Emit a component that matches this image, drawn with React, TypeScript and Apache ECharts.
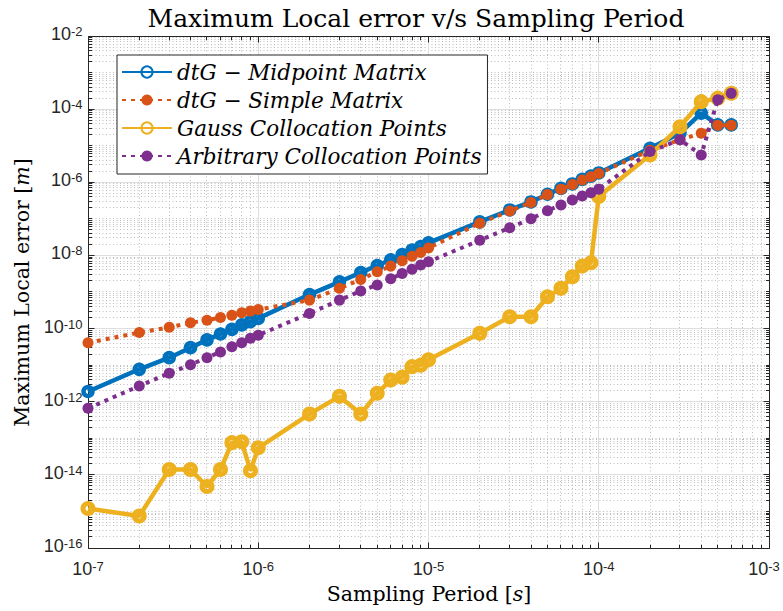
import { useEffect, useRef } from 'react';
import * as echarts from 'echarts';

// ---------- data ----------
const periods = [
  1e-7, 2e-7, 3e-7, 4e-7, 5e-7, 6e-7, 7e-7, 8e-7, 9e-7,
  1e-6, 2e-6, 3e-6, 4e-6, 5e-6, 6e-6, 7e-6, 8e-6, 9e-6,
  1e-5, 2e-5, 3e-5, 4e-5, 5e-5, 6e-5, 7e-5, 8e-5, 9e-5,
  1e-4, 2e-4, 3e-4, 4e-4, 5e-4, 6e-4,
];

const midpointErr = [
  1.9e-12, 7.7e-12, 1.6e-11, 3.0e-11, 4.9e-11, 7.1e-11, 9.5e-11, 1.26e-10, 1.55e-10,
  1.9e-10, 8.5e-10, 1.9e-9, 3.4e-9, 5.3e-9, 7.6e-9, 1.05e-8, 1.4e-8, 1.75e-8,
  2.2e-8, 8.3e-8, 1.75e-7, 2.9e-7, 4.7e-7, 6.8e-7, 9.0e-7, 1.2e-6, 1.47e-6,
  1.8e-6, 8.5e-6, 2.2e-5, 7.8e-5, 3.7e-5, 3.7e-5,
];

const simpleErr = [
  4.1e-11, 7.8e-11, 1.08e-10, 1.44e-10, 1.69e-10, 2.0e-10, 2.3e-10, 2.7e-10, 3.0e-10,
  3.3e-10, 6.0e-10, 1.26e-9, 2.2e-9, 3.6e-9, 5.1e-9, 7.2e-9, 9.5e-9, 1.2e-8,
  1.6e-8, 7.6e-8, 1.65e-7, 2.8e-7, 4.6e-7, 6.5e-7, 8.7e-7, 1.15e-6, 1.42e-6,
  1.75e-6, 7.5e-6, 1.45e-5, 2.2e-5, 3.6e-5, 3.6e-5,
];

const gaussErr = [
  1.2e-15, 7.5e-16, 1.4e-14, 1.4e-14, 4.8e-15, 1.4e-14, 7.6e-14, 8.0e-14, 1.3e-14,
  5.5e-14, 4.6e-13, 1.4e-12, 4.6e-13, 1.7e-12, 3.9e-12, 4.7e-12, 9.1e-12, 1.0e-11,
  1.4e-11, 7.4e-11, 2.1e-10, 2.1e-10, 7.4e-10, 1.26e-9, 2.6e-9, 5.1e-9, 6.3e-9,
  4.1e-7, 5.6e-6, 3.3e-5, 1.6e-4, 2.0e-4, 2.7e-4,
];

const arbitraryErr = [
  6.6e-13, 2.7e-12, 6.0e-12, 1.03e-11, 1.6e-11, 2.3e-11, 3.2e-11, 4.1e-11, 5.4e-11,
  6.6e-11, 2.6e-10, 6.0e-10, 1.07e-9, 1.56e-9, 2.3e-9, 3.2e-9, 4.2e-9, 5.5e-9,
  6.7e-9, 2.6e-8, 5.7e-8, 1.0e-7, 1.67e-7, 2.4e-7, 3.3e-7, 4.2e-7, 5.2e-7,
  6.5e-7, 6.9e-6, 1.45e-5, 5.6e-6, 1.8e-4, 2.7e-4,
];

const seriesNames = [
  'dtG − Midpoint Matrix',
  'dtG − Simple Matrix',
  'Gauss Collocation Points',
  'Arbitrary Collocation Points',
];

const titleText = 'Maximum Local error v/s Sampling Period';
const xTitleParts = ['Sampling Period [', 's', ']'];
const yTitleParts = ['Maximum Local error [', 'm', ']'];

const X_MIN = 1e-7;
const X_MAX = 1e-3;
const Y_MIN = 1e-16;
const Y_MAX = 1e-2;

const xMajorTicks = [1e-7, 1e-6, 1e-5, 1e-4, 1e-3];
const xMajorExps = ['-7', '-6', '-5', '-4', '-3'];
const yMajorTicks = [1e-16, 1e-14, 1e-12, 1e-10, 1e-8, 1e-6, 1e-4, 1e-2];
const yMajorExps = ['-16', '-14', '-12', '-10', '-8', '-6', '-4', '-2'];

const minorMultipliers = [2, 3, 4, 5, 6, 7, 8, 9];
const xDecades = [-7, -6, -5, -4];
const yDecades = [-16, -15, -14, -13, -12, -11, -10, -9, -8, -7, -6, -5, -4, -3];

const xMinorTicks = xDecades.flatMap((k) => minorMultipliers.map((m) => m * Math.pow(10, k)));
const yMinorTicks = yDecades.flatMap((k) => {
  const list = minorMultipliers.map((m) => m * Math.pow(10, k));
  if (Math.abs(k) % 2 === 1) list.unshift(Math.pow(10, k));
  return list;
});

// ---------- styles ----------
const BLUE = '#0072BD';
const ORANGE = '#D95319';
const GOLD = '#EDB120';
const PURPLE = '#7E2F8E';
const AXIS_COLOR = '#262626';
const SERIF = '"DejaVu Serif", "Liberation Serif", serif';
const SANS = '"Liberation Sans", Arial, Helvetica, sans-serif';

const crisp = (v: number) => Math.round(v - 0.5) + 0.5;

const tickRich = {
  b: {
    font: `18px ${SANS}`, fontSize: 18, fontFamily: SANS, fill: AXIS_COLOR,
    lineHeight: 18, verticalAlign: 'bottom', padding: [5, 0, 0, 0],
  },
  s: {
    font: `13px ${SANS}`, fontSize: 13, fontFamily: SANS, fill: AXIS_COLOR,
    lineHeight: 13, verticalAlign: 'top',
  },
};

const titleRich = {
  r: { fontSize: 20.5, fontFamily: SERIF, fill: '#000' },
  i: { fontSize: 20.5, fontFamily: SERIF, fontStyle: 'italic', fill: '#000' },
};

function renderFrame(_params: any, api: any) {
  const [l, b] = api.coord([X_MIN, Y_MIN]);
  const [r, t] = api.coord([X_MAX, Y_MAX]);
  const L = crisp(l), R = crisp(r), T = crisp(t), B = crisp(b);
  const children: any[] = [];
  const minorGrid = { stroke: '#bdbdbd', lineWidth: 1, lineDash: [1, 2.5], fill: null };
  const majorGrid = { stroke: '#dedede', lineWidth: 1, fill: null };
  const tickStyle = { stroke: AXIS_COLOR, lineWidth: 1, fill: null };
  const MAJ = 6;
  const MIN = 3.5;

  xMinorTicks.forEach((v) => {
    const px = crisp(api.coord([v, Y_MIN])[0]);
    children.push({ type: 'line', shape: { x1: px, y1: T, x2: px, y2: B }, style: minorGrid });
  });
  yMinorTicks.forEach((v) => {
    const py = crisp(api.coord([X_MIN, v])[1]);
    children.push({ type: 'line', shape: { x1: L, y1: py, x2: R, y2: py }, style: minorGrid });
  });
  xMajorTicks.forEach((v) => {
    const px = crisp(api.coord([v, Y_MIN])[0]);
    children.push({ type: 'line', shape: { x1: px, y1: T, x2: px, y2: B }, style: majorGrid });
  });
  yMajorTicks.forEach((v) => {
    const py = crisp(api.coord([X_MIN, v])[1]);
    children.push({ type: 'line', shape: { x1: L, y1: py, x2: R, y2: py }, style: majorGrid });
  });

  // ticks
  xMinorTicks.forEach((v) => {
    const px = crisp(api.coord([v, Y_MIN])[0]);
    children.push({ type: 'line', shape: { x1: px, y1: B, x2: px, y2: B - MIN }, style: tickStyle });
    children.push({ type: 'line', shape: { x1: px, y1: T, x2: px, y2: T + MIN }, style: tickStyle });
  });
  xMajorTicks.forEach((v) => {
    const px = crisp(api.coord([v, Y_MIN])[0]);
    children.push({ type: 'line', shape: { x1: px, y1: B, x2: px, y2: B - MAJ }, style: tickStyle });
    children.push({ type: 'line', shape: { x1: px, y1: T, x2: px, y2: T + MAJ }, style: tickStyle });
  });
  yMinorTicks.forEach((v) => {
    const py = crisp(api.coord([X_MIN, v])[1]);
    children.push({ type: 'line', shape: { x1: L, y1: py, x2: L + MIN, y2: py }, style: tickStyle });
    children.push({ type: 'line', shape: { x1: R, y1: py, x2: R - MIN, y2: py }, style: tickStyle });
  });
  yMajorTicks.forEach((v) => {
    const py = crisp(api.coord([X_MIN, v])[1]);
    children.push({ type: 'line', shape: { x1: L, y1: py, x2: L + MAJ, y2: py }, style: tickStyle });
    children.push({ type: 'line', shape: { x1: R, y1: py, x2: R - MAJ, y2: py }, style: tickStyle });
  });

  // box
  children.push({
    type: 'rect',
    shape: { x: L, y: T, width: R - L, height: B - T },
    style: { stroke: AXIS_COLOR, lineWidth: 1, fill: null },
  });

  // tick labels (last one kept inside the page edge)
  xMajorTicks.forEach((v, i) => {
    const px = api.coord([v, Y_MIN])[0];
    children.push({
      type: 'text',
      x: Math.min(px, 764),
      y: B + 11,
      style: { text: `{b|10}{s|${xMajorExps[i]}}`, rich: tickRich, align: 'center', verticalAlign: 'top' },
    });
  });
  yMajorTicks.forEach((v, i) => {
    const py = api.coord([X_MIN, v])[1];
    children.push({
      type: 'text',
      x: L - 6,
      y: py - 2,
      style: { text: `{b|10}{s|${yMajorExps[i]}}`, rich: tickRich, align: 'right', verticalAlign: 'middle' },
    });
  });

  // axis titles
  children.push({
    type: 'text',
    x: (L + R) / 2,
    y: B + 45,
    style: {
      text: `{r|${xTitleParts[0]}}{i|${xTitleParts[1]}}{r|${xTitleParts[2]}}`,
      rich: titleRich,
      align: 'center',
      verticalAlign: 'middle',
    },
  });
  children.push({
    type: 'text',
    x: 22,
    y: (T + B) / 2,
    rotation: Math.PI / 2,
    style: {
      text: `{r|${yTitleParts[0]}}{i|${yTitleParts[1]}}{r|${yTitleParts[2]}}`,
      rich: titleRich,
      align: 'center',
      verticalAlign: 'middle',
    },
  });

  return { type: 'group', children };
}

const toPairs = (ys: number[]) => periods.map((x, i) => [x, ys[i]]);

export default function App() {
  const ref = useRef<HTMLDivElement>(null);

  useEffect(() => {
    if (!ref.current) return;
    const chart = echarts.init(ref.current, undefined, { renderer: 'svg' });

    const dotted = [4, 5];

    const option: any = {
      animation: false,
      backgroundColor: '#ffffff',
      title: {
        text: titleText,
        left: 411,
        top: 1,
        textAlign: 'center',
        textStyle: { fontFamily: SERIF, fontWeight: 'normal', fontSize: 25, color: '#000' },
      },
      grid: { left: 88, right: 14, top: 36, bottom: 63, containLabel: false },
      xAxis: {
        type: 'log',
        logBase: 10,
        min: X_MIN,
        max: X_MAX,
        axisLine: { show: false },
        axisTick: { show: false },
        axisLabel: { show: false },
        splitLine: { show: false },
      },
      yAxis: {
        type: 'log',
        logBase: 10,
        min: Y_MIN,
        max: Y_MAX,
        axisLine: { show: false },
        axisTick: { show: false },
        axisLabel: { show: false },
        splitLine: { show: false },
      },
      legend: {
        orient: 'vertical',
        left: 117,
        top: 55,
        itemWidth: 50,
        itemHeight: 14,
        itemGap: 6,
        padding: [6, 6, 7, 4],
        borderColor: AXIS_COLOR,
        borderWidth: 1,
        borderRadius: 0,
        backgroundColor: '#ffffff',
        data: seriesNames,
        textStyle: {
          fontFamily: SERIF,
          fontStyle: 'italic',
          fontSize: 21.5,
          lineHeight: 20,
          color: '#000',
        },
      },
      series: [
        {
          type: 'custom',
          name: 'frame',
          coordinateSystem: 'cartesian2d',
          silent: true,
          z: 1,
          clip: false,
          data: [[X_MIN, Y_MIN]],
          renderItem: renderFrame,
        },
        {
          type: 'line',
          name: seriesNames[0],
          data: toPairs(midpointErr),
          z: 2,
          symbol: 'circle',
          symbolSize: 9,
          lineStyle: { color: BLUE, width: 4.5 },
          itemStyle: { color: 'rgba(0,0,0,0)', borderColor: BLUE, borderWidth: 4.5 },
        },
        {
          type: 'line',
          name: seriesNames[1],
          data: toPairs(simpleErr),
          z: 3,
          symbol: 'circle',
          symbolSize: 11,
          lineStyle: { color: ORANGE, width: 4, type: dotted, cap: 'butt' },
          itemStyle: { color: ORANGE },
        },
        {
          type: 'line',
          name: seriesNames[2],
          data: toPairs(gaussErr),
          z: 4,
          symbol: 'circle',
          symbolSize: 10,
          lineStyle: { color: GOLD, width: 4.5 },
          itemStyle: { color: 'rgba(0,0,0,0)', borderColor: GOLD, borderWidth: 5 },
        },
        {
          type: 'line',
          name: seriesNames[3],
          data: toPairs(arbitraryErr),
          z: 5,
          symbol: 'circle',
          symbolSize: 11,
          lineStyle: { color: PURPLE, width: 4, type: dotted, cap: 'butt' },
          itemStyle: { color: PURPLE },
        },
      ],
    };

    chart.setOption(option);
    return () => chart.dispose();
  }, []);

  return (
    <div
      ref={ref}
      style={{ position: 'absolute', left: 0, top: 0, width: 783, height: 611, background: '#fff' }}
    />
  );
}
